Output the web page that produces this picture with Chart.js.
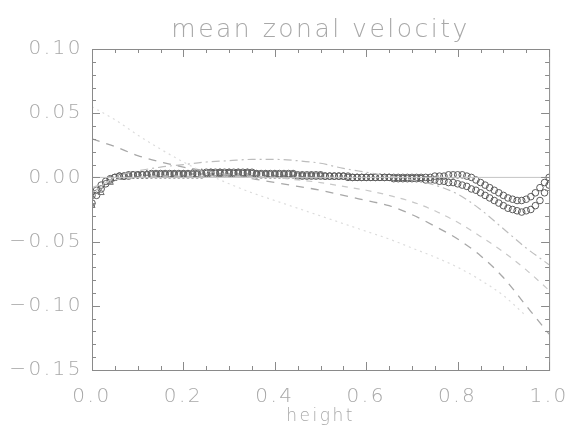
<!DOCTYPE html>
<html lang="en">
<head>
  <meta charset="UTF-8">
  <title>mean zonal velocity</title>
  <style>
    body {
      margin: 0;
      background: #fff;
    }
    #wrap {
      width: 565px;
      height: 439px;
    }
  </style>
</head>
<body>
  <div id="wrap"><canvas id="velChart"></canvas></div>

  <script src="https://cdn.jsdelivr.net/npm/chart.js"></script>
  <script>
    // fine grid for the two circle series
    const heightFine = [
      0.00, 0.01, 0.02, 0.03, 0.04, 0.05, 0.06, 0.07, 0.08, 0.09,
      0.10, 0.11, 0.12, 0.13, 0.14, 0.15, 0.16, 0.17, 0.18, 0.19,
      0.20, 0.21, 0.22, 0.23, 0.24, 0.25, 0.26, 0.27, 0.28, 0.29,
      0.30, 0.31, 0.32, 0.33, 0.34, 0.35, 0.36, 0.37, 0.38, 0.39,
      0.40, 0.41, 0.42, 0.43, 0.44, 0.45, 0.46, 0.47, 0.48, 0.49,
      0.50, 0.51, 0.52, 0.53, 0.54, 0.55, 0.56, 0.57, 0.58, 0.59,
      0.60, 0.61, 0.62, 0.63, 0.64, 0.65, 0.66, 0.67, 0.68, 0.69,
      0.70, 0.71, 0.72, 0.73, 0.74, 0.75, 0.76, 0.77, 0.78, 0.79,
      0.80, 0.81, 0.82, 0.83, 0.84, 0.85, 0.86, 0.87, 0.88, 0.89,
      0.90, 0.91, 0.92, 0.93, 0.94, 0.95, 0.96, 0.97, 0.98, 0.99,
      1.00
    ];
    const circlesUpper = [
      -0.014, -0.010, -0.006, -0.003, -0.001, 0.000, 0.001, 0.001, 0.002, 0.002,
      0.002, 0.002, 0.002, 0.003, 0.003, 0.003, 0.003, 0.003, 0.003, 0.003,
      0.003, 0.003, 0.003, 0.003, 0.003, 0.004, 0.004, 0.004, 0.004, 0.004,
      0.004, 0.004, 0.004, 0.004, 0.004, 0.004, 0.003, 0.003, 0.003, 0.003,
      0.003, 0.003, 0.003, 0.003, 0.003, 0.002, 0.002, 0.002, 0.002, 0.002,
      0.002, 0.001, 0.001, 0.001, 0.001, 0.001, 0.001, 0.000, 0.000, 0.000,
      0.000, 0.000, 0.000, 0.000, 0.000, 0.000, 0.000, 0.000, 0.000, 0.000,
      0.000, 0.000, 0.000, 0.000, 0.000, 0.001, 0.001, 0.001, 0.002, 0.002,
      0.002, 0.002, 0.001, 0.000, -0.002, -0.004, -0.006, -0.008, -0.010, -0.012,
      -0.014, -0.016, -0.017, -0.018, -0.018, -0.017, -0.015, -0.012, -0.008, -0.004,
      0.000
    ];
    const circlesLower = [
      -0.020, -0.014, -0.009, -0.005, -0.002, 0.000, 0.001, 0.001, 0.001, 0.002,
      0.002, 0.002, 0.002, 0.002, 0.002, 0.002, 0.002, 0.002, 0.002, 0.002,
      0.002, 0.002, 0.002, 0.002, 0.002, 0.003, 0.003, 0.003, 0.003, 0.003,
      0.003, 0.003, 0.003, 0.003, 0.003, 0.003, 0.002, 0.002, 0.002, 0.002,
      0.002, 0.002, 0.002, 0.002, 0.002, 0.001, 0.001, 0.001, 0.001, 0.001,
      0.001, 0.001, 0.001, 0.001, 0.001, 0.001, 0.000, 0.000, 0.000, 0.000,
      0.000, 0.000, 0.000, 0.000, 0.000, 0.000, -0.001, -0.001, -0.001, -0.001,
      -0.001, -0.001, -0.001, -0.002, -0.002, -0.002, -0.003, -0.003, -0.004, -0.004,
      -0.005, -0.006, -0.007, -0.009, -0.010, -0.012, -0.014, -0.016, -0.018, -0.020,
      -0.022, -0.024, -0.025, -0.026, -0.027, -0.026, -0.025, -0.022, -0.018, -0.012,
      -0.006
    ];

    // triangles near the bottom of the layer
    const heightTri = [
      0.00, 0.02, 0.04, 0.06, 0.08, 0.10, 0.12, 0.14, 0.16, 0.18,
      0.20, 0.22, 0.24, 0.26, 0.28, 0.30, 0.32, 0.34, 0.36, 0.38,
      0.40, 0.42, 0.44, 0.46, 0.48, 0.50
    ];
    const triangles = [
      -0.022, -0.012, -0.004, 0.000, 0.002, 0.002, 0.003, 0.003, 0.003, 0.003,
      0.003, 0.004, 0.004, 0.004, 0.004, 0.004, 0.004, 0.004, 0.003, 0.003,
      0.003, 0.003, 0.003, 0.002, 0.002, 0.002
    ];

    // coarse grid for the line profiles
    const heightCoarse = [
      0.00, 0.05, 0.10, 0.15, 0.20, 0.25, 0.30, 0.35, 0.40, 0.45,
      0.50, 0.55, 0.60, 0.65, 0.70, 0.75, 0.80, 0.85, 0.90, 0.95, 1.00
    ];
    const dashedA = [
      0.030, 0.024, 0.017, 0.012, 0.008, 0.005, 0.002, -0.001, -0.004, -0.007,
      -0.010, -0.014, -0.018, -0.022, -0.029, -0.038, -0.048, -0.061, -0.078, -0.100, -0.122
    ];
    const dashedB = [
      -0.008, -0.002, 0.000, 0.001, 0.001, 0.001, 0.001, 0.001, 0.000, -0.002,
      -0.004, -0.007, -0.010, -0.014, -0.019, -0.026, -0.035, -0.046, -0.058, -0.072, -0.088
    ];
    const dashDotC = [
      -0.012, 0.000, 0.005, 0.008, 0.010, 0.012, 0.013, 0.014, 0.014, 0.013,
      0.011, 0.007, 0.004, 0.001, -0.002, -0.006, -0.013, -0.025, -0.040, -0.055, -0.068
    ];
    const dottedD = [
      0.055, 0.045, 0.033, 0.022, 0.012, 0.003, -0.005, -0.012, -0.018, -0.024,
      -0.030, -0.036, -0.042, -0.048, -0.055, -0.062, -0.070, -0.080, -0.092, -0.108, null
    ];

    const zeroX = [0, 1];
    const zeroY = [0, 0];

    function pts(xs, ys) {
      return xs.map((x, i) => ({ x: x, y: ys[i] }));
    }

    // IDL style box with inward ticks on all four sides
    const frameTicks = {
      id: 'frameTicks',
      afterDraw(chart) {
        const ctx = chart.ctx;
        const a = chart.chartArea;
        const xs = chart.scales.x;
        const ys = chart.scales.y;
        ctx.save();
        ctx.strokeStyle = '#8a8a8a';
        ctx.lineWidth = 1;
        ctx.strokeRect(a.left + 0.5, a.top + 0.5, a.right - a.left, a.bottom - a.top);
        ctx.beginPath();
        for (let i = 0; i <= 20; i++) {
          const px = Math.round(xs.getPixelForValue(i * 0.05)) + 0.5;
          const len = i % 4 === 0 ? 8 : 4;
          ctx.moveTo(px, a.bottom); ctx.lineTo(px, a.bottom - len);
          ctx.moveTo(px, a.top); ctx.lineTo(px, a.top + len);
        }
        for (let i = 0; i <= 25; i++) {
          const py = Math.round(ys.getPixelForValue(-0.15 + i * 0.01)) + 0.5;
          const len = i % 5 === 0 ? 8 : 4;
          ctx.moveTo(a.left, py); ctx.lineTo(a.left + len, py);
          ctx.moveTo(a.right, py); ctx.lineTo(a.right - len, py);
        }
        ctx.stroke();
        ctx.restore();
      }
    };

    const spacing = {
      id: 'spacing',
      beforeDraw(chart) {
        chart.ctx.letterSpacing = '2.5px';
      }
    };

    const lightText = '#a8a8a8';
    const fontFam = "'DejaVu Sans', sans-serif";

    new Chart(document.getElementById('velChart'), {
      type: 'scatter',
      data: {
        datasets: [
          {
            data: pts(zeroX, zeroY), showLine: true, pointRadius: 0,
            borderColor: '#c4c4c4', borderWidth: 1
          },
          {
            data: pts(heightCoarse, dottedD), showLine: true, pointRadius: 0,
            borderColor: '#dcdcdc', borderWidth: 1.2, borderDash: [2, 4], cubicInterpolationMode: 'monotone'
          },
          {
            data: pts(heightCoarse, dashedB), showLine: true, pointRadius: 0,
            borderColor: '#c8c8c8', borderWidth: 1.2, borderDash: [6, 6], cubicInterpolationMode: 'monotone'
          },
          {
            data: pts(heightCoarse, dashedA), showLine: true, pointRadius: 0,
            borderColor: '#a8a8a8', borderWidth: 1.3, borderDash: [8, 7], cubicInterpolationMode: 'monotone'
          },
          {
            data: pts(heightCoarse, dashDotC), showLine: true, pointRadius: 0,
            borderColor: '#bdbdbd', borderWidth: 1.2, borderDash: [8, 4, 2, 4], cubicInterpolationMode: 'monotone'
          },
          {
            data: pts(heightTri, triangles), pointStyle: 'triangle', pointRadius: 3.5,
            borderColor: '#707070', borderWidth: 1, backgroundColor: 'rgba(0,0,0,0)'
          },
          {
            data: pts(heightFine, circlesLower), pointStyle: 'circle', pointRadius: 3.3,
            borderColor: '#5a5a5a', borderWidth: 1, backgroundColor: 'rgba(0,0,0,0)'
          },
          {
            data: pts(heightFine, circlesUpper), pointStyle: 'circle', pointRadius: 3.3,
            borderColor: '#5a5a5a', borderWidth: 1, backgroundColor: 'rgba(0,0,0,0)'
          }
        ]
      },
      options: {
        responsive: true,
        maintainAspectRatio: false,
        animation: false,
        layout: { padding: { left: 0, right: 0, top: 0, bottom: 0 } },
        plugins: {
          legend: { display: false },
          tooltip: { enabled: false },
          title: {
            display: true,
            fullSize: false,
            text: 'mean zonal velocity',
            color: lightText,
            font: { family: fontFam, size: 25, weight: '200' },
            padding: { top: 15, bottom: 4 }
          }
        },
        scales: {
          x: {
            type: 'linear',
            min: 0,
            max: 1,
            afterFit(scale) { scale.height = 69; },
            // invisible tick marks only to push the labels down
            grid: {
              display: true, drawOnChartArea: false, drawTicks: true,
              tickLength: 15, tickColor: 'rgba(0,0,0,0)'
            },
            border: { display: false },
            ticks: {
              stepSize: 0.2,
              padding: 0,
              color: lightText,
              font: { family: fontFam, size: 20, weight: '200' },
              callback: v => v.toFixed(1)
            },
            title: {
              display: true,
              text: 'height',
              color: lightText,
              font: { family: fontFam, size: 17, weight: '200' },
              padding: { top: 0, bottom: 12 }
            }
          },
          y: {
            min: -0.15,
            max: 0.10,
            afterFit(scale) { scale.width = 92; },
            grid: { display: false, drawTicks: false },
            border: { display: false },
            ticks: {
              stepSize: 0.05,
              padding: 9,
              color: lightText,
              font: { family: fontFam, size: 20, weight: '200' },
              callback: v => (v < -1e-9 ? '\u2212' : '') + Math.abs(v).toFixed(2)
            }
          }
        }
      },
      plugins: [spacing, frameTicks]
    });
  </script>
</body>
</html>
